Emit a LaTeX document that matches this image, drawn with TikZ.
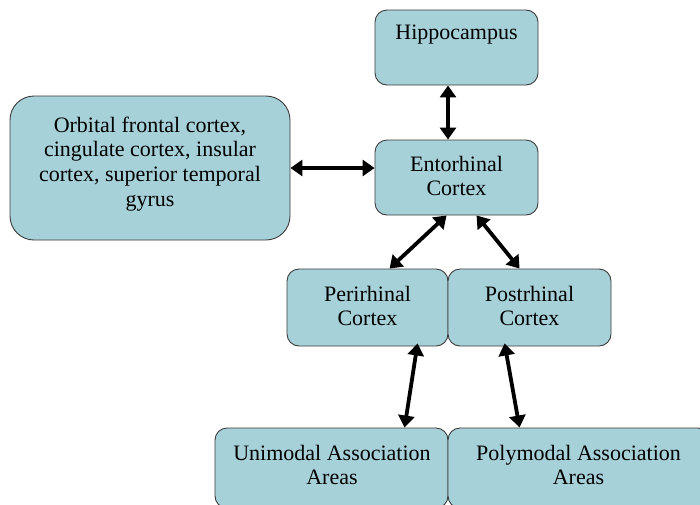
\documentclass[tikz,border=0pt]{standalone}
\usepackage{fontspec}
\setmainfont{Liberation Serif}
\usetikzlibrary{arrows.meta}
\definecolor{boxfill}{RGB}{167,209,217}
\definecolor{boxline}{RGB}{60,60,60}
\begin{document}
\begin{tikzpicture}[x=1pt,y=-1pt,
  region/.style={draw=boxline, line width=0.9pt, fill=boxfill, rounded corners=12pt, inner sep=0pt},
  caption/.style={align=center, font=\fontsize{22}{24.8}\selectfont, inner sep=0pt, text=black},
  link/.style={line width=3.8pt, {Triangle[length=12pt,width=16pt]}-{Triangle[length=12pt,width=16pt]}}]
\clip (0,0) rectangle (700,504);

% region boxes
\node[region, minimum width=163pt, minimum height=75pt] (hip) at (456.5,47.5) {};
\node[region, minimum width=163pt, minimum height=75pt] (ent) at (456.5,177.5) {};
\node[region, rounded corners=24pt, minimum width=280pt, minimum height=144pt] (orb) at (150,168) {};
\node[region, minimum width=161pt, minimum height=77pt] (peri) at (367.5,307.5) {};
\node[region, minimum width=163pt, minimum height=77pt] (post) at (529.5,307.5) {};
\node[region, minimum width=233pt, minimum height=80pt] (uni) at (331.5,468) {};
\node[region, minimum width=262pt, minimum height=80pt] (poly) at (579,468) {};

% captions
\node[caption] (hipT) at (456.5,35) {Hippocampus};
\node[caption] (entT) at (456.5,176) {Entorhinal\\Cortex};
\node[caption] (orbT) at (150,164) {Orbital frontal cortex,\\cingulate cortex, insular\\cortex, superior temporal\\gyrus};
\node[caption] (periT) at (367.5,306) {Perirhinal\\Cortex};
\node[caption] (postT) at (529.5,306) {Postrhinal\\Cortex};
\node[caption] (uniT) at (332,465) {Unimodal Association\\Areas};
\node[caption] (polyT) at (578.5,465) {Polymodal Association\\Areas};

% connections
\draw[link] ([xshift=-8.5pt]hip.south) -- ([xshift=-8.5pt]ent.north);
\draw[link] (orb.east) -- (orb.east -| ent.west);
\draw[link] ([xshift=72pt]ent.south west) -- ([xshift=103pt]peri.north west);
\draw[link] ([xshift=102pt]ent.south west) -- ([xshift=72pt]post.north west);
\draw[link] ([xshift=131pt,yshift=3pt]peri.south west) -- ([xshift=190pt]uni.north west);
\draw[link] ([xshift=57pt,yshift=3pt]post.south west) -- ([xshift=72pt]poly.north west);
\end{tikzpicture}
\end{document}
